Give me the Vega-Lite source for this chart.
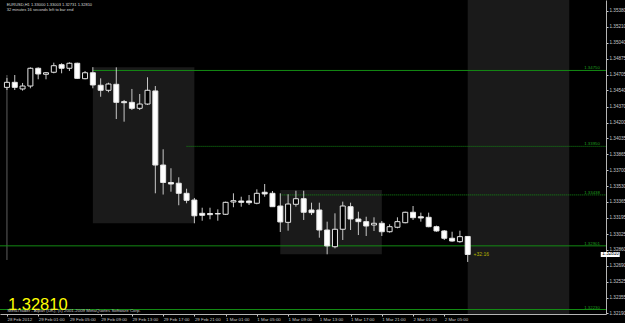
{
  "$schema": "https://vega.github.io/schema/vega-lite/v6.json",
  "width": 606,
  "height": 314,
  "autosize": {"type": "none"},
  "padding": {"left": 0, "top": 0, "right": 19, "bottom": 9},
  "background": "#000000",
  "resolve": {"axis": {"x": "independent", "y": "independent"}},
  "config": {
    "view": {"stroke": null},
    "font": "Liberation Sans",
    "axis": {"grid": false, "labelOverlap": false, "labelFlush": false, "labelBound": false, "labelColor": "#c8c8c8", "tickColor": "#c8c8c8", "domainColor": "#b4b4b4", "tickSize": 2, "labelPadding": 1}
  },
  "datasets": {
    "candles": [
      {"t": "2012-02-28T21:00:00Z", "o": 1.34572, "h": 1.34670, "l": 1.34544, "c": 1.34625},
      {"t": "2012-02-28T22:00:00Z", "o": 1.34625, "h": 1.34702, "l": 1.34544, "c": 1.34572},
      {"t": "2012-02-28T23:00:00Z", "o": 1.34555, "h": 1.34618, "l": 1.34537, "c": 1.34586},
      {"t": "2012-02-29T00:00:00Z", "o": 1.34586, "h": 1.34783, "l": 1.34562, "c": 1.34773},
      {"t": "2012-02-29T01:00:00Z", "o": 1.34773, "h": 1.34783, "l": 1.34657, "c": 1.34713},
      {"t": "2012-02-29T02:00:00Z", "o": 1.34710, "h": 1.34734, "l": 1.34657, "c": 1.34726},
      {"t": "2012-02-29T03:00:00Z", "o": 1.34731, "h": 1.34832, "l": 1.34720, "c": 1.34800},
      {"t": "2012-02-29T04:00:00Z", "o": 1.34811, "h": 1.34826, "l": 1.34720, "c": 1.34773},
      {"t": "2012-02-29T05:00:00Z", "o": 1.34773, "h": 1.34836, "l": 1.34744, "c": 1.34826},
      {"t": "2012-02-29T06:00:00Z", "o": 1.34826, "h": 1.34832, "l": 1.34660, "c": 1.34667},
      {"t": "2012-02-29T07:00:00Z", "o": 1.34663, "h": 1.34744, "l": 1.34657, "c": 1.34726},
      {"t": "2012-02-29T08:00:00Z", "o": 1.34726, "h": 1.34785, "l": 1.34562, "c": 1.34597},
      {"t": "2012-02-29T09:00:00Z", "o": 1.34594, "h": 1.34667, "l": 1.34473, "c": 1.34541},
      {"t": "2012-02-29T10:00:00Z", "o": 1.34541, "h": 1.34621, "l": 1.34520, "c": 1.34607},
      {"t": "2012-02-29T11:00:00Z", "o": 1.34604, "h": 1.34783, "l": 1.34238, "c": 1.34414},
      {"t": "2012-02-29T12:00:00Z", "o": 1.34421, "h": 1.34439, "l": 1.34210, "c": 1.34410},
      {"t": "2012-02-29T13:00:00Z", "o": 1.34414, "h": 1.34555, "l": 1.34333, "c": 1.34351},
      {"t": "2012-02-29T14:00:00Z", "o": 1.34351, "h": 1.34502, "l": 1.34333, "c": 1.34396},
      {"t": "2012-02-29T15:00:00Z", "o": 1.34396, "h": 1.34678, "l": 1.34386, "c": 1.34541},
      {"t": "2012-02-29T16:00:00Z", "o": 1.34534, "h": 1.34586, "l": 1.33455, "c": 1.33753},
      {"t": "2012-02-29T17:00:00Z", "o": 1.33753, "h": 1.33919, "l": 1.33442, "c": 1.33569},
      {"t": "2012-02-29T18:00:00Z", "o": 1.33569, "h": 1.33719, "l": 1.33472, "c": 1.33553},
      {"t": "2012-02-29T19:00:00Z", "o": 1.33561, "h": 1.33624, "l": 1.33329, "c": 1.33455},
      {"t": "2012-02-29T20:00:00Z", "o": 1.33455, "h": 1.33503, "l": 1.33350, "c": 1.33381},
      {"t": "2012-02-29T21:00:00Z", "o": 1.33384, "h": 1.33406, "l": 1.33139, "c": 1.33218},
      {"t": "2012-02-29T22:00:00Z", "o": 1.33244, "h": 1.33303, "l": 1.33166, "c": 1.33223},
      {"t": "2012-02-29T23:00:00Z", "o": 1.33242, "h": 1.33303, "l": 1.33181, "c": 1.33230},
      {"t": "2012-03-01T00:00:00Z", "o": 1.33242, "h": 1.33286, "l": 1.33166, "c": 1.33237},
      {"t": "2012-03-01T01:00:00Z", "o": 1.33234, "h": 1.33367, "l": 1.33226, "c": 1.33360},
      {"t": "2012-03-01T02:00:00Z", "o": 1.33363, "h": 1.33455, "l": 1.33308, "c": 1.33377},
      {"t": "2012-03-01T03:00:00Z", "o": 1.33374, "h": 1.33419, "l": 1.33314, "c": 1.33360},
      {"t": "2012-03-01T04:00:00Z", "o": 1.33374, "h": 1.33437, "l": 1.33332, "c": 1.33356},
      {"t": "2012-03-01T05:00:00Z", "o": 1.33350, "h": 1.33497, "l": 1.33339, "c": 1.33455},
      {"t": "2012-03-01T06:00:00Z", "o": 1.33466, "h": 1.33553, "l": 1.33419, "c": 1.33448},
      {"t": "2012-03-01T07:00:00Z", "o": 1.33455, "h": 1.33479, "l": 1.33314, "c": 1.33314},
      {"t": "2012-03-01T08:00:00Z", "o": 1.33321, "h": 1.33455, "l": 1.33047, "c": 1.33153},
      {"t": "2012-03-01T09:00:00Z", "o": 1.33149, "h": 1.33445, "l": 1.33061, "c": 1.33342},
      {"t": "2012-03-01T10:00:00Z", "o": 1.33339, "h": 1.33482, "l": 1.33314, "c": 1.33398},
      {"t": "2012-03-01T11:00:00Z", "o": 1.33398, "h": 1.33482, "l": 1.33174, "c": 1.33255},
      {"t": "2012-03-01T12:00:00Z", "o": 1.33279, "h": 1.33356, "l": 1.33226, "c": 1.33251},
      {"t": "2012-03-01T13:00:00Z", "o": 1.33279, "h": 1.33356, "l": 1.32987, "c": 1.33068},
      {"t": "2012-03-01T14:00:00Z", "o": 1.33068, "h": 1.33156, "l": 1.32812, "c": 1.32900},
      {"t": "2012-03-01T15:00:00Z", "o": 1.32892, "h": 1.33244, "l": 1.32875, "c": 1.33076},
      {"t": "2012-03-01T16:00:00Z", "o": 1.33076, "h": 1.33367, "l": 1.32963, "c": 1.33321},
      {"t": "2012-03-01T17:00:00Z", "o": 1.33314, "h": 1.33356, "l": 1.33068, "c": 1.33184},
      {"t": "2012-03-01T18:00:00Z", "o": 1.33184, "h": 1.33261, "l": 1.33015, "c": 1.33156},
      {"t": "2012-03-01T19:00:00Z", "o": 1.33156, "h": 1.33208, "l": 1.33005, "c": 1.33110},
      {"t": "2012-03-01T20:00:00Z", "o": 1.33121, "h": 1.33202, "l": 1.33058, "c": 1.33139},
      {"t": "2012-03-01T21:00:00Z", "o": 1.33139, "h": 1.33163, "l": 1.33005, "c": 1.33050},
      {"t": "2012-03-01T22:00:00Z", "o": 1.33050, "h": 1.33128, "l": 1.33040, "c": 1.33103},
      {"t": "2012-03-01T23:00:00Z", "o": 1.33097, "h": 1.33202, "l": 1.33086, "c": 1.33156},
      {"t": "2012-03-02T00:00:00Z", "o": 1.33145, "h": 1.33261, "l": 1.33139, "c": 1.33255},
      {"t": "2012-03-02T01:00:00Z", "o": 1.33255, "h": 1.33321, "l": 1.33174, "c": 1.33198},
      {"t": "2012-03-02T02:00:00Z", "o": 1.33208, "h": 1.33251, "l": 1.33156, "c": 1.33195},
      {"t": "2012-03-02T03:00:00Z", "o": 1.33202, "h": 1.33251, "l": 1.33097, "c": 1.33103},
      {"t": "2012-03-02T04:00:00Z", "o": 1.33103, "h": 1.33114, "l": 1.33050, "c": 1.33058},
      {"t": "2012-03-02T05:00:00Z", "o": 1.33058, "h": 1.33068, "l": 1.32963, "c": 1.32981},
      {"t": "2012-03-02T06:00:00Z", "o": 1.32981, "h": 1.33050, "l": 1.32945, "c": 1.32952},
      {"t": "2012-03-02T07:00:00Z", "o": 1.32945, "h": 1.33061, "l": 1.32934, "c": 1.32998},
      {"t": "2012-03-02T08:00:00Z", "o": 1.33000, "h": 1.33003, "l": 1.32731, "c": 1.32810}
    ],
    "sessions": [
      {"start": "2012-02-29T08:00:00Z", "end": "2012-02-29T21:00:00Z", "top": 1.34785, "bottom": 1.33139},
      {"start": "2012-03-01T08:00:00Z", "end": "2012-03-01T21:00:00Z", "top": 1.33490, "bottom": 1.32812},
      {"start": "2012-03-02T08:00:00Z", "end": "2012-03-02T21:00:00Z", "top": 1.35600, "bottom": 1.32100}
    ],
    "levels": [
      {"price": 1.34750, "from": "2012-02-29T08:00:00Z", "kind": "solid"},
      {"price": 1.33950, "from": "2012-02-29T20:00:00Z", "kind": "dotted"},
      {"price": 1.33438, "from": "2012-03-01T08:00:00Z", "kind": "dotted"},
      {"price": 1.32901, "from": "2012-02-28T12:00:00Z", "kind": "solid"},
      {"price": 1.32230, "from": "2012-02-28T12:00:00Z", "kind": "solid"}
    ]
  },
  "layer": [
    {
      "data": {"name": "sessions"},
      "mark": {"type": "rect", "color": "#1a1a1a", "clip": true},
      "encoding": {
        "x": {"field": "start", "type": "temporal", "axis": null},
        "x2": {"field": "end"},
        "y": {"field": "top", "type": "quantitative", "axis": null},
        "y2": {"field": "bottom"}
      }
    },
    {
      "data": {"values": [{}]},
      "mark": {"type": "rule", "color": "#5e5e5e", "strokeWidth": 1},
      "encoding": {
        "x": {"datum": {"year": 2012, "month": 2, "date": 28, "hours": 21, "utc": true}, "type": "temporal", "axis": null},
        "y": {"datum": 1.34702, "type": "quantitative", "axis": null},
        "y2": {"datum": 1.32752}
      }
    },
    {
      "data": {"name": "levels"},
      "transform": [{"filter": "datum.kind == 'solid'"}],
      "mark": {"type": "rule", "color": "#138a13", "strokeWidth": 1, "clip": true},
      "encoding": {
        "x": {"field": "from", "type": "temporal", "axis": null},
        "x2": {"datum": {"year": 2012, "month": 3, "date": 3, "hours": 3, "utc": true}},
        "y": {"field": "price", "type": "quantitative", "axis": null}
      }
    },
    {
      "data": {"name": "levels"},
      "transform": [{"filter": "datum.kind == 'dotted'"}],
      "mark": {"type": "rule", "color": "#138a13", "strokeWidth": 1, "strokeDash": [1, 1], "clip": true},
      "encoding": {
        "x": {"field": "from", "type": "temporal", "axis": null},
        "x2": {"datum": {"year": 2012, "month": 3, "date": 3, "hours": 3, "utc": true}},
        "y": {"field": "price", "type": "quantitative", "axis": null}
      }
    },
    {
      "data": {"name": "levels"},
      "mark": {"type": "text", "color": "#1f9f1f", "fontSize": 4.3, "align": "right", "baseline": "alphabetic", "dy": -1},
      "encoding": {
        "x": {"datum": {"year": 2012, "month": 3, "date": 3, "hours": 0, "minutes": 55, "utc": true}, "type": "temporal", "axis": null},
        "y": {"field": "price", "type": "quantitative", "axis": null},
        "text": {"field": "price", "type": "quantitative", "format": ".5f"}
      }
    },
    {
      "data": {"name": "candles"},
      "mark": {"type": "rule", "color": "#c8c8c8", "strokeWidth": 1},
      "encoding": {
        "x": {
          "field": "t", "type": "temporal",
          "scale": {"type": "utc", "domain": [
            {"year": 2012, "month": 2, "date": 28, "hours": 20, "minutes": 45, "utc": true},
            {"year": 2012, "month": 3, "date": 3, "hours": 1, "minutes": 4, "utc": true}
          ]},
          "axis": {
            "title": null, "orient": "bottom", "grid": false,
            "values": [
              {"year": 2012, "month": 2, "date": 28, "hours": 21, "utc": true},
              {"year": 2012, "month": 2, "date": 29, "hours": 1, "utc": true},
              {"year": 2012, "month": 2, "date": 29, "hours": 5, "utc": true},
              {"year": 2012, "month": 2, "date": 29, "hours": 9, "utc": true},
              {"year": 2012, "month": 2, "date": 29, "hours": 13, "utc": true},
              {"year": 2012, "month": 2, "date": 29, "hours": 17, "utc": true},
              {"year": 2012, "month": 2, "date": 29, "hours": 21, "utc": true},
              {"year": 2012, "month": 3, "date": 1, "hours": 1, "utc": true},
              {"year": 2012, "month": 3, "date": 1, "hours": 5, "utc": true},
              {"year": 2012, "month": 3, "date": 1, "hours": 9, "utc": true},
              {"year": 2012, "month": 3, "date": 1, "hours": 13, "utc": true},
              {"year": 2012, "month": 3, "date": 1, "hours": 17, "utc": true},
              {"year": 2012, "month": 3, "date": 1, "hours": 21, "utc": true},
              {"year": 2012, "month": 3, "date": 2, "hours": 1, "utc": true},
              {"year": 2012, "month": 3, "date": 2, "hours": 5, "utc": true}
            ],
            "labelExpr": "utcdate(datum.value) == 28 ? '28 Feb 2012' : utcFormat(datum.value, '%-d %b %H:%M')",
            "labelAlign": "left", "labelBaseline": "top", "labelFontSize": 4.4,
            "labelOverlap": false, "labelFlush": false, "labelBound": false
          }
        },
        "y": {
          "field": "l", "type": "quantitative",
          "scale": {"domain": [1.321826, 1.354928], "zero": false, "nice": false},
          "axis": {
            "title": null, "orient": "right", "grid": false,
            "values": [1.3538, 1.3521, 1.3504, 1.34875, 1.34705, 1.3454, 1.3437, 1.342, 1.34035, 1.33865, 1.337, 1.3353, 1.33365, 1.33195, 1.33025, 1.3286, 1.3269, 1.32525, 1.32355, 1.3219],
            "format": ".5f", "labelFontSize": 4.6, "labelBaseline": "middle",
            "labelOverlap": false, "labelFlush": false, "labelBound": false
          }
        },
        "y2": {"field": "h"}
      }
    },
    {
      "data": {"name": "candles"},
      "mark": {"type": "bar", "size": 5, "stroke": "#e6e6e6", "strokeWidth": 1},
      "encoding": {
        "x": {"field": "t", "type": "temporal", "axis": null},
        "y": {"field": "o", "type": "quantitative", "axis": null},
        "y2": {"field": "c"},
        "fill": {"condition": {"test": "datum.c > datum.o", "value": "#000000"}, "value": "#ffffff"}
      }
    },
    {
      "data": {"values": [{}]},
      "mark": {"type": "text", "color": "#d8d8d8", "fontSize": 4, "align": "left", "baseline": "middle", "lineHeight": 4.6},
      "encoding": {
        "x": {"datum": {"year": 2012, "month": 2, "date": 28, "hours": 20, "minutes": 58, "utc": true}, "type": "temporal", "axis": null},
        "y": {"datum": 1.35440, "type": "quantitative", "axis": null},
        "text": {"value": ["EURUSD,H1  1.33000 1.33003 1.32731 1.32810", "32 minutes 16 seconds left to bar end"]}
      }
    },
    {
      "data": {"values": [{}]},
      "mark": {"type": "text", "color": "#ffff00", "fontSize": 16.5, "align": "left", "baseline": "alphabetic"},
      "encoding": {
        "x": {"datum": {"year": 2012, "month": 2, "date": 28, "hours": 21, "minutes": 8, "utc": true}, "type": "temporal", "axis": null},
        "y": {"datum": 1.32222, "type": "quantitative", "axis": null},
        "text": {"value": "1.32810"}
      }
    },
    {
      "data": {"values": [{}]},
      "mark": {"type": "text", "color": "#c8c8c8", "fontSize": 4.4, "align": "left", "baseline": "middle"},
      "encoding": {
        "x": {"datum": {"year": 2012, "month": 2, "date": 28, "hours": 21, "minutes": 5, "utc": true}, "type": "temporal", "axis": null},
        "y": {"datum": 1.32211, "type": "quantitative", "axis": null},
        "text": {"value": "MetaTrader - Alpari (UK), (c) 2001-2009 MetaQuotes Software Corp."}
      }
    },
    {
      "data": {"values": [{}]},
      "mark": {"type": "text", "color": "#b4b400", "fontSize": 5, "align": "left", "baseline": "middle"},
      "encoding": {
        "x": {"datum": {"year": 2012, "month": 3, "date": 2, "hours": 8, "minutes": 45, "utc": true}, "type": "temporal", "axis": null},
        "y": {"datum": 1.32810, "type": "quantitative", "axis": null},
        "text": {"value": "+32:16"}
      }
    },
    {
      "data": {"values": [{}]},
      "mark": {"type": "tick", "orient": "horizontal", "color": "#ffffff", "size": 19, "thickness": 5, "opacity": 1},
      "encoding": {
        "x": {"datum": {"year": 2012, "month": 3, "date": 3, "hours": 2, "minutes": 15, "utc": true}, "type": "temporal", "axis": null},
        "y": {"datum": 1.32810, "type": "quantitative", "axis": null}
      }
    },
    {
      "data": {"values": [{}]},
      "mark": {"type": "text", "color": "#000000", "fontSize": 4.6, "align": "left", "baseline": "middle"},
      "encoding": {
        "x": {"datum": {"year": 2012, "month": 3, "date": 3, "hours": 1, "minutes": 14, "utc": true}, "type": "temporal", "axis": null},
        "y": {"datum": 1.32810, "type": "quantitative", "axis": null},
        "text": {"value": "1.32810"}
      }
    }
  ]
}
